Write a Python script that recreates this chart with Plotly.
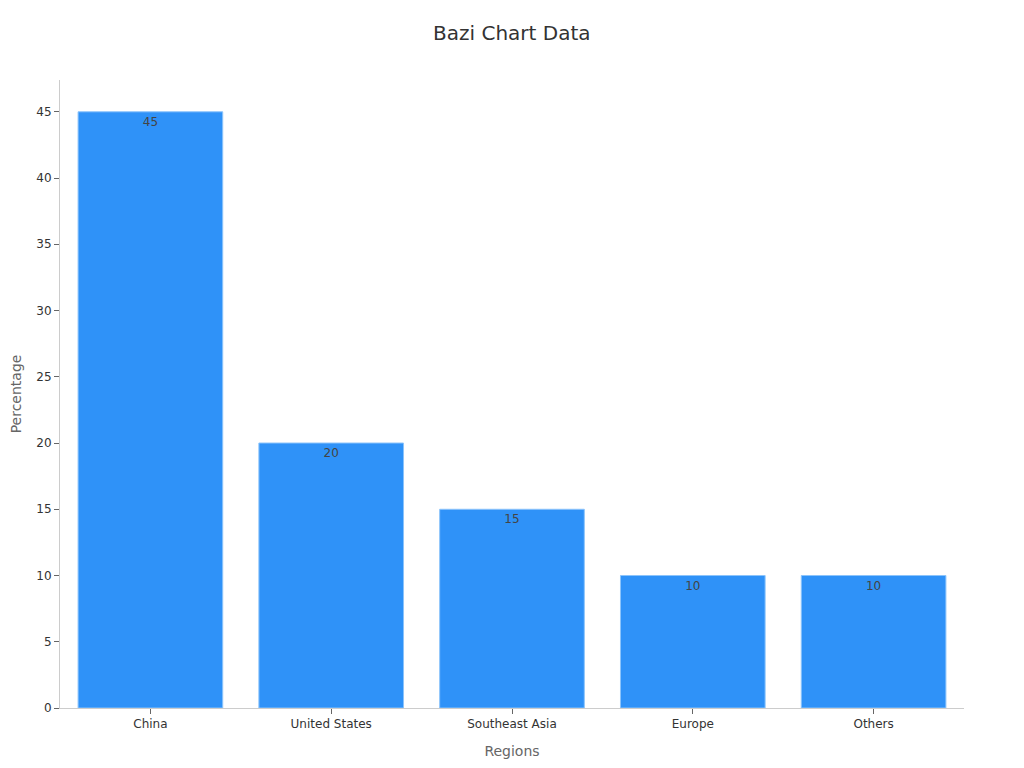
import plotly.graph_objects as go

categories = ["China", "United States", "Southeast Asia", "Europe", "Others"]
values = [45, 20, 15, 10, 10]

fig = go.Figure()
fig.add_trace(go.Bar(
    x=categories,
    y=values,
    text=[str(v) for v in values],
    textposition="inside",
    insidetextanchor="end",
    textfont=dict(family="DejaVu Sans", size=12, color="#444444"),
    marker=dict(color="#2f92f8", line=dict(color="#8cc4fb", width=1)),
    width=0.8,
))

fig.update_layout(
    width=1024, height=768,
    margin=dict(l=52, r=68, t=72, b=68, autoexpand=False),
    paper_bgcolor="white", plot_bgcolor="white",
    font=dict(family="DejaVu Sans", size=12, color="#333333"),
    title=dict(text="Bazi Chart Data", x=0.492, xanchor="center", y=0.967, yanchor="middle",
               font=dict(family="DejaVu Sans", size=20, color="#333333")),
    showlegend=False,
    bargap=0.2,
)
fig.update_xaxes(
    title=dict(text="Regions", font=dict(size=14, color="#666666"), standoff=15),
    showline=True, linecolor="#cccccc", linewidth=1,
    ticks="outside", ticklen=5, tickcolor="#666666",
    tickfont=dict(size=12, color="#333333"),
    showgrid=False, zeroline=False, automargin=False,
)
fig.update_yaxes(
    title=dict(text="Percentage", font=dict(size=14, color="#666666"), standoff=19),
    range=[0, 47.4], dtick=5,
    showline=True, linecolor="#cccccc", linewidth=1,
    ticks="outside", ticklen=5, tickcolor="#666666",
    tickfont=dict(size=12, color="#333333"),
    showgrid=False, zeroline=False, automargin=False,
)

fig.write_html("out.html")
